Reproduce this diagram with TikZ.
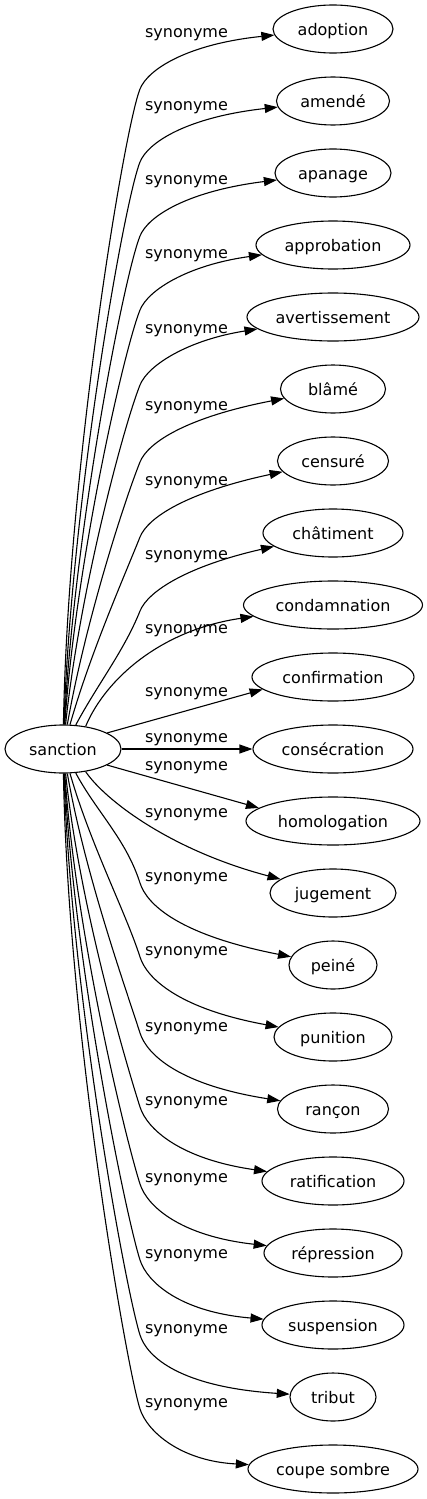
\documentclass[tikz,border=0pt]{standalone}
\usepackage{fontspec}
\setmainfont{DejaVu Sans}
\usetikzlibrary{shapes.geometric,arrows.meta}
\begin{document}
\begin{tikzpicture}[x=1pt,y=-1pt,
  word/.style={ellipse, draw, line width=1.1pt, inner sep=0pt, minimum height=48pt,
               text height=12pt, text depth=0pt, font=\fontsize{16}{19}\selectfont},
  lab/.style={anchor=base, inner sep=0pt, font=\fontsize{16}{19}\selectfont},
  edge/.style={line width=1.1pt, -{Triangle[length=13pt,width=9pt]}}]
\fill[white] (0,0) rectangle (426,1499);
\useasboundingbox (0,0) rectangle (426,1499);
% nodes
\node[word, minimum width=116pt] (s) at (63,749) {sanction};
\node[word, minimum width=120pt] (n0) at (333,29) {adoption};
\node[word, minimum width=113pt] (n1) at (333,101) {amendé};
\node[word, minimum width=116pt] (n2) at (333,173) {apanage};
\node[word, minimum width=154pt] (n3) at (333,245) {approbation};
\node[word, minimum width=172pt] (n4) at (333,317) {avertissement};
\node[word, minimum width=105pt] (n5) at (333,389) {blâmé};
\node[word, minimum width=111pt] (n6) at (333,461) {censuré};
\node[word, minimum width=140pt] (n7) at (333,533) {châtiment};
\node[word, minimum width=179pt] (n8) at (333,605) {condamnation};
\node[word, minimum width=162pt] (n9) at (333,677) {confirmation};
\node[word, minimum width=160pt] (n10) at (333,749) {consécration};
\node[word, minimum width=174pt] (n11) at (333,821) {homologation};
\node[word, minimum width=126pt] (n12) at (333,893) {jugement};
\node[word, minimum width=88pt] (n13) at (333,965) {peiné};
\node[word, minimum width=118pt] (n14) at (333,1037) {punition};
\node[word, minimum width=111pt] (n15) at (333,1109) {rançon};
\node[word, minimum width=142pt] (n16) at (333,1181) {ratification};
\node[word, minimum width=138pt] (n17) at (333,1253) {répression};
\node[word, minimum width=142pt] (n18) at (333,1325) {suspension};
\node[word, minimum width=86pt] (n19) at (333,1397) {tribut};
\node[word, minimum width=170pt] (n20) at (333,1469) {coupe sombre};
% labels
\foreach \y [count=\i from 0] in {33,106,180,254,329,406,481,555,629,692,738,766,813,877,951,1027,1101,1178,1254,1329,1403}
  \node[lab] (l\i) at (186.5,\y+4.5) {synonyme};
% upper edges
\draw[edge] (s.89) .. controls (67.8,470.6) and (124,129) .. (140,89) .. controls (148,69) and (188,44) .. (n0);
\draw[edge] (s.88) .. controls (71.7,499.9) and (124,202) .. (140,162) .. controls (148,142) and (188,117) .. (n1);
\draw[edge] (s.87) .. controls (74.5,529.7) and (124,276) .. (140,236) .. controls (148,216) and (188,191) .. (n2);
\draw[edge] (s.86) .. controls (76.3,559.4) and (124,350) .. (140,310) .. controls (148,290) and (188,265) .. (n3);
\draw[edge] (s.84) .. controls (79.7,589.7) and (124,425) .. (140,385) .. controls (148,365) and (188,340) .. (n4);
\draw[edge] (s.80) .. controls (85.5,621.5) and (124,502) .. (140,462) .. controls (148,442) and (188,417) .. (n5);
\draw[edge] (s.74) .. controls (90.5,652.9) and (124,577) .. (140,537) .. controls (148,517) and (188,492) .. (n6);
\draw[edge] (s.62) .. controls (97,685.1) and (124,651) .. (140,611) .. controls (148,591) and (188,566) .. (n7);
\draw[edge] (s.45) .. controls (105,680) and (160,630) .. (n8);
\draw[edge] (s.20) -- (n9.190);
\draw[edge] (s) -- (n10);
\draw[edge] (s.-20) -- (n11.170);
\draw[edge] (s.-45) .. controls (105,800) and (170,850) .. (n12);
% lower edges
\draw[edge] (s.-62) .. controls (96.3,811.5) and (126,839) .. (140,883) .. controls (147,905) and (180,935) .. (n13);
\draw[edge] (s.-74) .. controls (90.1,843.6) and (126,913) .. (140,957) .. controls (147,979) and (180,1009) .. (n14);
\draw[edge] (s.-80) .. controls (85.3,875.3) and (126,989) .. (140,1033) .. controls (147,1055) and (180,1085) .. (n15);
\draw[edge] (s.-84) .. controls (79.5,905.9) and (126,1063) .. (140,1107) .. controls (147,1129) and (180,1159) .. (n16);
\draw[edge] (s.-86) .. controls (76.2,937) and (126,1140) .. (140,1184) .. controls (147,1206) and (180,1236) .. (n17);
\draw[edge] (s.-87) .. controls (74.5,967.5) and (126,1216) .. (140,1260) .. controls (147,1282) and (180,1312) .. (n18);
\draw[edge] (s.-88) .. controls (71.6,997.7) and (126,1291) .. (140,1335) .. controls (147,1357) and (180,1387) .. (n19);
\draw[edge] (s.-89) .. controls (67.8,1027.4) and (126,1365) .. (140,1409) .. controls (147,1431) and (180,1461) .. (n20);
\end{tikzpicture}
\end{document}
